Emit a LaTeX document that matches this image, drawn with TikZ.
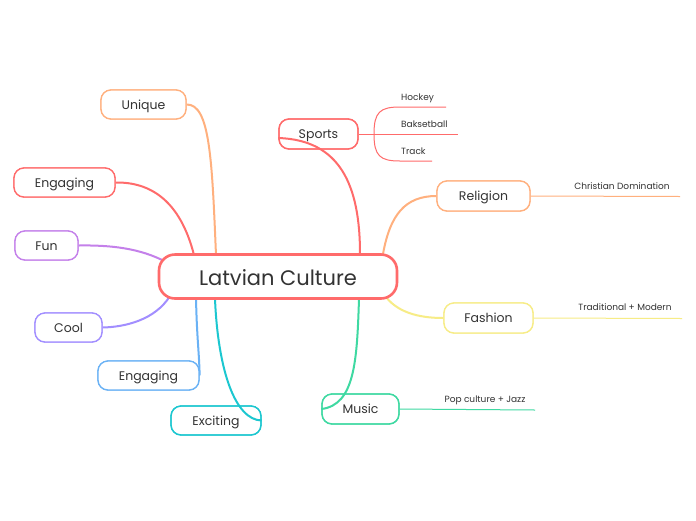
\documentclass[tikz,border=0pt]{standalone}
\usepackage{fontspec}
\setmainfont{Poppins}
\definecolor{cred}{HTML}{FF6B6B}
\definecolor{corange}{HTML}{FFB07E}
\definecolor{cyellow}{HTML}{F7EC86}
\definecolor{cgreen}{HTML}{3FD9A2}
\definecolor{ccyan}{HTML}{1CC7D0}
\definecolor{cblue}{HTML}{6AB2F5}
\definecolor{cpurple}{HTML}{C480EA}
\definecolor{cviolet}{HTML}{A28EFF}
\definecolor{ctext}{HTML}{333333}
\begin{document}
\begin{tikzpicture}[x=1pt,y=-1pt,
  topic/.style={draw=#1, line width=1.3pt, rounded corners=10pt, fill=white, text=ctext,
     font=\fontsize{12.5}{14}\selectfont, inner sep=0pt, text height=10pt, text depth=1pt},
  conn/.style={draw=#1, line width=2pt},
  sub/.style={draw=#1, line width=1pt},
  subtext/.style={text=ctext, font=\fontsize{9}{10}\selectfont, inner sep=0pt, anchor=base}]
\useasboundingbox[fill=white] (0,0) rectangle (696,520);

\coordinate (cSp) at (360,254);
\coordinate (cRe) at (383,254);
\coordinate (cFa) at (386,297);
\coordinate (cMu) at (359,299);
\coordinate (cEx) at (215,299);
\coordinate (cEn2) at (196,299);
\coordinate (cCo) at (170,296);
\coordinate (cFu) at (166,262);
\coordinate (cEn1) at (194,255);
\coordinate (cUn) at (216,255);

% topic nodes
\node[topic=cred, minimum width=79pt, minimum height=30pt] (sports) at (318.5,134) {};
\node[topic=corange, minimum width=93pt, minimum height=30pt] (religion) at (483.5,196) {Religion};
\node[topic=cyellow, minimum width=89pt, minimum height=30pt] (fashion) at (488.5,318) {Fashion};
\node[topic=cgreen, minimum width=77pt, minimum height=30pt] (music) at (360.5,409) {};
\node[topic=corange, minimum width=85pt, minimum height=29pt] (unique) at (143.5,104.5) {Unique};
\node[topic=cred, minimum width=101pt, minimum height=29pt] (eng1) at (64.5,182.5) {Engaging};
\node[topic=cpurple, minimum width=63pt, minimum height=29pt] (fun) at (46.5,245.5) {Fun};
\node[topic=cviolet, minimum width=67pt, minimum height=29pt] (cool) at (68.5,327.5) {Cool};
\node[topic=cblue, minimum width=101pt, minimum height=29pt] (eng2) at (148.5,375.5) {Engaging};
\node[topic=ccyan, minimum width=90pt, minimum height=29pt] (exc) at (216,420.5) {};

% connector curves
\draw[conn=cred] (cSp) .. controls (360,185) and (340,140) .. ([yshift=-4pt]sports.west);
\draw[conn=corange] (cRe) .. controls (390,215) and (405,196) .. (religion.west);
\draw[conn=cyellow] (cFa) .. controls (400,315) and (425,318) .. (fashion.west);
\draw[conn=cgreen] (cMu) .. controls (357,360) and (355,405) .. (music.west);
\draw[conn=ccyan] (cEx) .. controls (218,370) and (235,420) .. (exc.east);
\draw[conn=cblue] (cEn2) .. controls (197,340) and (199,350) .. (eng2.east);
\draw[conn=cviolet] (cCo) .. controls (155,320) and (125,327) .. (cool.east);
\draw[conn=cpurple] (cFu) .. controls (140,248) and (110,245) .. (fun.east);
\draw[conn=cred] (cEn1) .. controls (180,200) and (150,182) .. (eng1.east);
\draw[conn=corange] (cUn) .. controls (212,160) and (210,104) .. (unique.east);

% borders and labels on top of connector ends
\node[topic=cred, minimum width=79pt, minimum height=30pt, fill=none] (sportsL) at (sports) {Sports};
\node[topic=corange, minimum width=93pt, minimum height=30pt] at (religion) {Religion};
\node[topic=cyellow, minimum width=89pt, minimum height=30pt] at (fashion) {Fashion};
\node[topic=cgreen, minimum width=77pt, minimum height=30pt, fill=none] (musicL) at (music) {Music};
\node[topic=corange, minimum width=85pt, minimum height=29pt] at (unique) {Unique};
\node[topic=cred, minimum width=101pt, minimum height=29pt] at (eng1) {Engaging};
\node[topic=cpurple, minimum width=63pt, minimum height=29pt] at (fun) {Fun};
\node[topic=cviolet, minimum width=67pt, minimum height=29pt] at (cool) {Cool};
\node[topic=cblue, minimum width=101pt, minimum height=29pt] at (eng2) {Engaging};
\node[topic=ccyan, minimum width=90pt, minimum height=29pt, fill=none] (excL) at (exc) {Exciting};

% central
\node[draw=cred, line width=2.6pt, rounded corners=16pt, fill=white, text=ctext,
  minimum width=238pt, minimum height=44pt, font=\fontsize{21}{24}\selectfont, inner sep=0pt,
  text height=17pt, text depth=0pt]
  (center) at (278,276.5) {Latvian Culture};

% sports subtopics
\coordinate (sb) at (374,134);
\coordinate (hk) at (400,107);
\coordinate (tr) at (400,161);
\draw[sub=cred] (sports.east) -- (sb);
\draw[sub=cred] (sb) .. controls (374,112) and (380,107) .. (hk) -- (446,107);
\draw[sub=cred] (sb) -- (458,134);
\draw[sub=cred] (sb) .. controls (374,156) and (380,161) .. (tr) -- (432,161);
\node[subtext, anchor=base west] (hockey) at (401,100) {Hockey};
\node[subtext, anchor=base west] (bask) at (401,127) {Baksetball};
\node[subtext, anchor=base west] (track) at (401,154) {Track};

% other subtopics
\coordinate (reEnd) at (680,196.5);
\draw[sub=corange] (religion.east) -- (reEnd);
\node[subtext] (chr) at (622,189.5) {Christian Domination};
\coordinate (faEnd) at (682,318.5);
\draw[sub=cyellow] (fashion.east) -- (faEnd);
\node[subtext] (trad) at (625,310.5) {Traditional + Modern};
\coordinate (muEnd) at (535,410);
\draw[sub=cgreen] (music.east) -- (muEnd);
\node[subtext] (pop) at (485,402.5) {Pop culture + Jazz};
\end{tikzpicture}
\end{document}
